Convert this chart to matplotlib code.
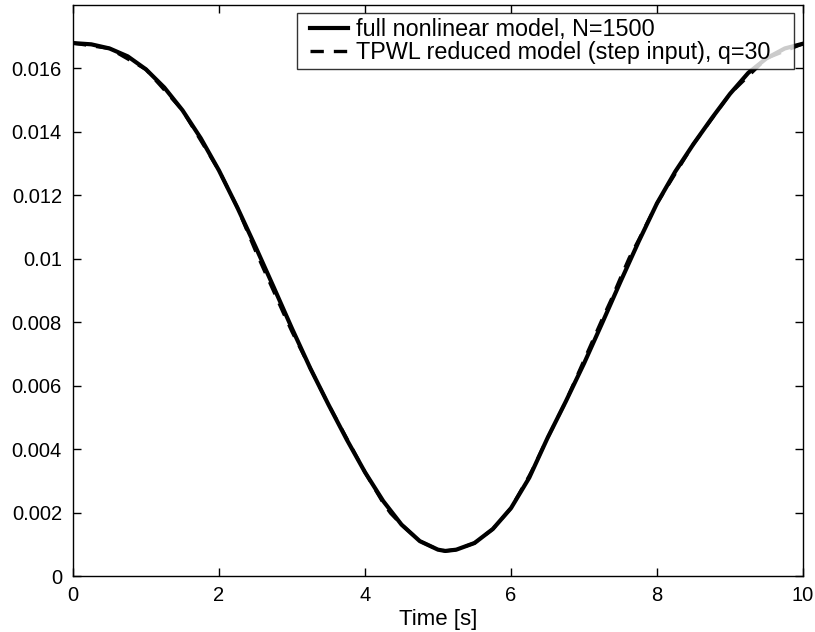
import matplotlib
matplotlib.use("Agg")
import matplotlib.pyplot as plt
from matplotlib.legend_handler import HandlerLine2D

plt.rcParams['font.family'] = ['Liberation Sans', 'DejaVu Sans']

# full nonlinear model
t_full = [0.0, 0.25, 0.5, 0.75, 1.0, 1.25, 1.5, 1.75, 2.0, 2.25, 2.5, 2.75, 3.0,
          3.25, 3.5, 3.75, 4.0, 4.25, 4.5, 4.75, 5.0, 5.1, 5.25, 5.5, 5.75, 6.0,
          6.25, 6.5, 6.75, 7.0, 7.25, 7.5, 7.75, 8.0, 8.25, 8.5, 8.75, 9.0, 9.25,
          9.5, 9.75, 10.0]
v_full = [0.01680, 0.01676, 0.01663, 0.01638, 0.01597, 0.01540, 0.01468, 0.01380,
          0.01278, 0.01162, 0.01038, 0.00910, 0.00780, 0.00655, 0.00540, 0.00430,
          0.00327, 0.00236, 0.00162, 0.00110, 0.00083, 0.00079, 0.00083, 0.00104,
          0.00148, 0.00214, 0.00310, 0.00435, 0.00550, 0.00670, 0.00798, 0.00928,
          0.01055, 0.01175, 0.01275, 0.01362, 0.01443, 0.01520, 0.01586, 0.01632,
          0.01663, 0.01678]

# TPWL reduced model, nearly on top of the full model
t_red = [0.0, 0.5, 1.0, 1.5, 2.0, 2.25, 2.5, 2.62, 2.75, 2.88, 3.0, 3.25, 3.5, 4.0,
         4.25, 4.35, 4.5, 4.75, 5.0, 5.1, 5.25, 5.5, 5.75, 6.0, 6.25, 6.3, 6.5,
         6.75, 7.0, 7.25, 7.38, 7.5, 7.62, 7.75, 8.0, 8.5, 9.0, 9.5, 10.0]
v_red = [0.01680, 0.01663, 0.01597, 0.01468, 0.01278, 0.01162, 0.01025, 0.00963,
         0.00897, 0.00830, 0.00770, 0.00655, 0.00540, 0.00327, 0.00230, 0.00198,
         0.00162, 0.00110, 0.00083, 0.00079, 0.00083, 0.00104, 0.00148, 0.00214,
         0.00316, 0.00338, 0.00435, 0.00550, 0.00680, 0.00810, 0.00875, 0.00940,
         0.01003, 0.01060, 0.01175, 0.01362, 0.01520, 0.01632, 0.01678]

fig = plt.figure(figsize=(8.15, 6.32), dpi=100)
ax = fig.add_axes([0.0896, 0.0886, 0.8957, 0.9035])

ax.plot(t_red, v_red, color='black', linestyle=(0, (4, 3)), linewidth=2.4,
        label='TPWL reduced model (step input), q=30')
ax.plot(t_full, v_full, color='black', linestyle='-', linewidth=3.0,
        solid_joinstyle='round', label='full nonlinear model, N=1500')

ax.set_xlim(0, 10)
ax.set_ylim(0, 0.018)
ax.set_xticks([0, 2, 4, 6, 8, 10])
ax.set_yticks([0, 0.002, 0.004, 0.006, 0.008, 0.01, 0.012, 0.014, 0.016])
ax.set_yticklabels(['0', '0.002', '0.004', '0.006', '0.008', '0.01', '0.012',
                    '0.014', '0.016'])
ax.tick_params(direction='in', length=6, width=1, top=True, right=True,
               labelsize=14.5)
ax.tick_params(axis='y', pad=8)
ax.tick_params(axis='x', pad=7)
for s in ax.spines.values():
    s.set_linewidth(1)
ax.set_xlabel('Time [s]', fontsize=16, labelpad=3)

h, l = ax.get_legend_handles_labels()
leg = ax.legend(h[::-1], l[::-1], loc='upper left',
                bbox_to_anchor=(0.307, 0.0, 0.681, 0.986), mode='expand',
                fontsize=16.8, frameon=True, fancybox=False, edgecolor='black',
                handlelength=1.97, handletextpad=0.35, borderpad=0.22,
                labelspacing=0.0, borderaxespad=0,
                handler_map={h[0]: HandlerLine2D(xpad=0.34),
                             h[1]: HandlerLine2D(xpad=0.34)})
leg.get_frame().set_linewidth(1)

fig.savefig('out.png', dpi=100)
